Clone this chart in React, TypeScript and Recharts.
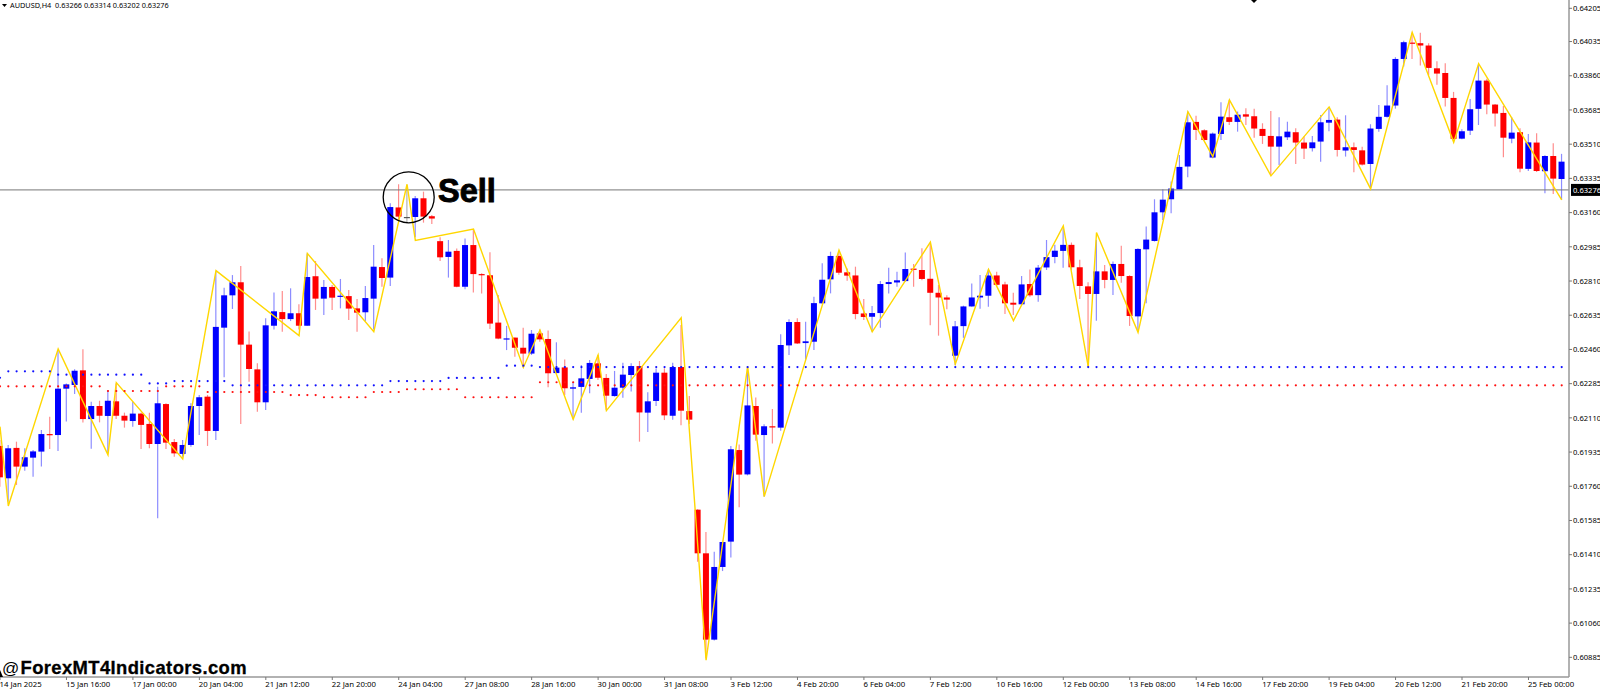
// App.tsx - AUDUSD H4 candles with zigzag and dotted levels
import {
  ComposedChart,
  Bar,
  Line,
  XAxis,
  YAxis,
  ReferenceLine,
} from "recharts";

// readings below are in points; this lines them up with the axis labels
const toPrice = (p: number) => (64247.5 - 0.99677 * (64247.6 - p)) * 0.00001;

// prices in points, one entry per H4 candle
const opens = [
  61959,61793,61949,61853,61899,61930,62020,62015,62253,62272,
  62347,62097,62164,62113,62188,62114,62087,62125,62072,61969,
  62174,61979,61918,61964,62164,62212,62036,62566,62732,62799,
  62479,62352,62183,62576,62646,62610,62640,62576,62830,62715,
  62775,62725,62728,62665,62645,62715,62877,62823,63183,63134,
  63134,63230,63138,63010,62929,62960,62776,62990,62841,62835,
  62592,62506,62515,62463,62433,62537,62508,62333,62362,62253,
  62262,62303,62383,62308,62215,62258,62323,62369,62130,62190,
  62335,62114,62364,62138,61632,61408,60965,61338,61468,61938,
  61813,62164,62015,62060,62053,62475,62595,62487,62494,62691,
  62814,62934,62850,62834,62639,62622,62641,62790,62798,62805,
  62869,62862,62817,62745,62721,62422,62574,62675,62721,62730,
  62834,62788,62694,62686,62790,62733,62875,62929,62960,62991,
  62876,62778,62739,62855,62811,62893,62831,62624,62968,63011,
  63158,63225,63276,63393,63622,63579,63439,63560,63646,63622,
  63661,63651,63586,63550,63495,63543,63569,63516,63487,63521,
  63618,63634,63475,63492,63476,63406,63586,63648,63706,63945,
  64029,64026,64014,63897,63873,63745,63536,63577,63689,63834,
  63711,63668,63536,63569,63381,63516,63369,63447,63329,
];
const highs = [
  61990,61964,61981,61947,61938,62041,62109,62451,62280,62352,
  62455,62186,62191,62246,62280,62130,62186,62130,62130,62263,
  62178,61995,61990,62178,62221,62221,62853,62771,62836,62883,
  62546,62383,62614,62747,62754,62768,62686,62947,62908,62811,
  62785,62816,62759,62713,62780,62990,62922,63204,63302,63298,
  63242,63264,63144,63030,63016,62972,63024,63067,62845,62953,
  62734,62575,62515,62566,62554,62557,62551,62491,62403,62289,
  62374,62400,62426,62328,62344,62386,62383,62395,62234,62357,
  62357,62386,62580,62215,61634,61517,61416,61466,61959,61967,
  62366,62208,62070,62149,62532,62609,62614,62597,62725,62896,
  62956,62956,62870,62879,62713,62677,62805,62874,62853,62952,
  62893,62973,62999,62785,62733,62600,62679,62793,62836,62865,
  62853,62802,62745,62831,62865,62887,63016,62991,63076,63003,
  62914,62799,63016,62888,62905,62987,62835,62973,63085,63225,
  63276,63316,63452,63675,63653,63584,63567,63723,63735,63675,
  63692,63690,63615,63678,63646,63623,63589,63547,63550,63658,
  63697,63646,63656,63516,63495,63610,63709,63810,63954,64039,
  64080,64080,64026,63933,63923,63776,63584,63740,63914,63844,
  63714,63704,63646,63589,63560,63564,63451,63512,63458,
];
const lows = [
  61750,61673,61759,61832,61801,61853,61943,61933,62084,62226,
  62079,61945,62080,61921,62097,62053,62058,61943,61947,61588,
  61943,61904,61904,61955,62015,61959,61990,62311,62662,62072,
  62289,62135,62144,62557,62545,62600,62557,62576,62657,62631,
  62657,62665,62605,62545,62600,62557,62776,62780,63119,63102,
  63030,63105,63098,62908,62823,62773,62763,62746,62742,62559,
  62506,62451,62417,62362,62426,62494,62260,62332,62220,62096,
  62130,62229,62297,62143,62212,62207,62238,61981,62031,62164,
  62092,62094,62065,62072,61365,60869,60960,61317,61387,61644,
  61808,61986,61699,61971,62037,62426,62482,62403,62451,62687,
  62742,62838,62807,62609,62605,62545,62566,62742,62776,62802,
  62776,62809,62579,62525,62660,62374,62514,62674,62663,62674,
  62780,62636,62631,62682,62725,62699,62862,62896,62874,62862,
  62713,62366,62602,62768,62734,62797,62575,62546,62691,63008,
  63119,63153,63276,63338,63529,63526,63435,63529,63606,63572,
  63606,63541,63509,63350,63401,63529,63406,63432,63470,63418,
  63574,63444,63444,63363,63398,63281,63572,63644,63690,63906,
  63945,63911,63863,63813,63701,63530,63533,63555,63606,63661,
  63598,63441,63512,63363,63370,63365,63256,63252,63222,
];
const closes = [
  61798,61947,61853,61901,61931,62020,62017,62253,62275,62345,
  62097,62164,62114,62191,62114,62089,62125,62067,61969,62178,
  61976,61921,61964,62164,62209,62036,62570,62732,62799,62479,
  62354,62183,62578,62650,62610,62640,62576,62826,62715,62775,
  62720,62730,62664,62643,62718,62879,62821,63185,63136,63134,
  63230,63136,63126,62927,62956,62776,62990,62841,62836,62587,
  62510,62511,62463,62433,62535,62506,62332,62361,62255,62260,
  62306,62385,62309,62217,62258,62325,62369,62131,62188,62335,
  62116,62364,62140,62094,61408,60965,61338,61466,61942,61812,
  62167,62017,62060,62055,62477,62595,62485,62496,62692,62812,
  62934,62848,62833,62636,62621,62641,62790,62800,62809,62867,
  62863,62816,62745,62721,62710,62573,62675,62721,62730,62834,
  62786,62691,62684,62788,62732,62874,62928,62961,62991,62876,
  62780,62739,62855,62811,62893,62831,62626,62970,63018,63158,
  63223,63280,63391,63620,63581,63529,63562,63649,63622,63659,
  63649,63588,63550,63495,63548,63572,63516,63485,63517,63620,
  63632,63478,63492,63478,63403,63588,63648,63706,63945,64031,
  64024,64014,63899,63870,63745,63535,63574,63687,63834,63711,
  63665,63541,63567,63382,63517,63370,63447,63331,63418,
];

// zigzag pivots: candle number and price in points
const zigIndex = [
  0,1,7,13,14,22,26,36,37,45,49,50,57,63,65,69,72,73,82,85,90,92,
  101,105,112,115,119,122,128,131,132,137,143,146,148,153,160,165,170,175,178,188,
];
const zigPrice = [
  62058,61651,62457,61913,62284,61892,62859,62525,62947,62545,63302,63014,63072,62362,
  62554,62096,62426,62140,62617,60860,62366,61699,62964,62545,63005,62379,62865,62602,
  63088,62366,63054,62542,63675,63444,63735,63345,63699,63278,64082,63517,63921,63222,
];

// dotted levels as [price in points, number of candles]
const blueRuns = [
  [62309,1],[62342,6],[62325,11],[62280,3],[62292,7],[62270,19],
  [62292,7],[62308,7],[62371,4],[62364,124],
];
const redRuns = [
  [62265,13],[62241,7],[62265,5],[62236,10],[62220,4],[62209,6],
  [62236,4],[62250,7],[62209,9],[62286,6],[62270,118],
];

const timeLabels = [
  "14 Jan 2025","15 Jan 16:00","17 Jan 00:00","20 Jan 04:00","21 Jan 12:00","22 Jan 20:00",
  "24 Jan 04:00","27 Jan 08:00","28 Jan 16:00","30 Jan 00:00","31 Jan 08:00","3 Feb 12:00",
  "4 Feb 20:00","6 Feb 04:00","7 Feb 12:00","10 Feb 16:00","12 Feb 00:00","13 Feb 08:00",
  "14 Feb 16:00","17 Feb 20:00","19 Feb 04:00","20 Feb 12:00","21 Feb 20:00","25 Feb 00:00",
];
const priceTicks = [
  0.64205,0.64035,0.6386,0.63685,0.6351,0.63335,0.6316,0.62985,0.6281,0.62635,
  0.6246,0.62285,0.6211,0.61935,0.6176,0.61585,0.6141,0.61235,0.6106,0.60885,
];
const lastPrice = 0.63276;
const header = "AUDUSD,H4  0.63266 0.63314 0.63202 0.63276";
const watermark = "ForexMT4Indicators.com";

const expand = (runs: number[][]) =>
  runs.flatMap(([v, n]) => Array(n).fill(toPrice(v)));

const blueDots = expand(blueRuns);
const redDots = expand(redRuns);

const data = opens.map((o, i) => {
  const z = zigIndex.indexOf(i);
  return {
    idx: i,
    open: toPrice(o),
    high: toPrice(highs[i]),
    low: toPrice(lows[i]),
    close: toPrice(closes[i]),
    range: [toPrice(lows[i]), toPrice(highs[i])],
    zig: z >= 0 ? toPrice(zigPrice[z]) : null,
    blue: blueDots[i],
    red: redDots[i],
  };
});

const FONT = "'Noto Sans', sans-serif";

const Candle = (props: any) => {
  const { x, y, width, height, payload } = props;
  const { open, high, low, close } = payload;
  const k = height / (high - low);
  const toY = (p: number) => y + (high - p) * k;
  const cx = x + width / 2;
  const color = close > open ? "#0000ff" : close < open ? "#ff0000" : "#555555";
  const top = toY(Math.max(open, close));
  const h = Math.max(Math.abs(open - close) * k, 1.2);
  return (
    <g>
      <line x1={cx} x2={cx} y1={y} y2={y + height} stroke={color} strokeWidth={1.2} strokeOpacity={0.45} />
      <rect x={x} y={top} width={width} height={h} fill={color} />
    </g>
  );
};

const TimeTick = (props: any) => {
  const { x, payload } = props;
  const label = timeLabels[Math.round(payload.value / 8)];
  return (
    <g>
      <line x1={x} x2={x} y1={677} y2={680} stroke="#777" />
      <text x={x - 0.5} y={687} fontSize={7.8} fontFamily={FONT} fill="#000">
        {label}
      </text>
    </g>
  );
};

const PriceBox = (props: any) => {
  const { viewBox } = props;
  const right = viewBox.x + viewBox.width;
  return (
    <g>
      <rect x={right + 2} y={viewBox.y - 6} width={30} height={12} fill="#000" />
      <text x={right + 4} y={viewBox.y + 3} fontSize={7.6} fontFamily={FONT} fill="#fff">
        {lastPrice.toFixed(5)}
      </text>
    </g>
  );
};

export default function App() {
  return (
    <div style={{ position: "absolute", left: 0, top: 0, width: 1600, height: 689, overflow: "hidden", background: "#fff" }}>
      <ComposedChart
        width={1600}
        height={689}
        data={data}
        margin={{ top: 0, right: 0, bottom: 0, left: -4.15 }}
      >
        <XAxis
          dataKey="idx"
          interval={7}
          height={12}
          padding={{ left: 0, right: 3.15 }}
          axisLine={{ stroke: "#999", strokeWidth: 1.5 }}
          tickLine={false}
          tickSize={0}
          tick={<TimeTick />}
        />
        <YAxis
          orientation="right"
          width={31}
          domain={[0.607844, 0.642475]}
          allowDataOverflow
          ticks={priceTicks}
          interval={0}
          tickFormatter={(v: number) => v.toFixed(5)}
          tick={{ fontSize: 7.6, fontFamily: FONT, fill: "#000" }}
          tickSize={3}
          tickMargin={1}
          axisLine={{ stroke: "#999", strokeWidth: 1.5 }}
          tickLine={{ stroke: "#777" }}
        />
        <ReferenceLine y={lastPrice} stroke="#777" strokeWidth={1} label={<PriceBox />} />
        <Bar dataKey="range" barSize={6} shape={<Candle />} isAnimationActive={false} />
        <Line dataKey="blue" stroke="none" dot={{ r: 1.1, fill: "#1010ff", stroke: "none" }} activeDot={false} isAnimationActive={false} />
        <Line dataKey="red" stroke="none" dot={{ r: 1.1, fill: "#ff1010", stroke: "none" }} activeDot={false} isAnimationActive={false} />
        <Line dataKey="zig" stroke="#ffd700" strokeWidth={1.4} dot={false} activeDot={false} connectNulls isAnimationActive={false} />
      </ComposedChart>
      <svg width={1600} height={689} style={{ position: "absolute", left: 0, top: 0, pointerEvents: "none" }}>
        <path d="M2 4 L7 4 L4.5 7 Z" fill="#000" />
        <path d="M1251 0 L1257 0 L1254 3 Z" fill="#000" />
        <path d="M0 670 L3 677 L0 677 Z" fill="#000" />
        <text x={10} y={8} fontSize={7.3} fontFamily={FONT} fill="#000" xmlSpace="preserve">
          {header}
        </text>
        <circle cx={408.7} cy={197.3} r={25.5} fill="none" stroke="#000" strokeWidth={1.3} />
        <text x={438} y={202} fontSize={32.5} fontWeight="bold" fontFamily="'Liberation Sans', sans-serif" stroke="#000" strokeWidth={0.9} fill="#000">
          Sell
        </text>
        <text x={2} y={674} fontSize={17} fontFamily="'Liberation Sans', sans-serif" fill="#000">
          @
        </text>
        <text x={20.5} y={674} fontSize={18.4} letterSpacing={0.4} fontWeight="bold" fontFamily="'Liberation Sans', sans-serif" stroke="#000" strokeWidth={0.3} fill="#000">
          {watermark}
        </text>
      </svg>
    </div>
  );
}
